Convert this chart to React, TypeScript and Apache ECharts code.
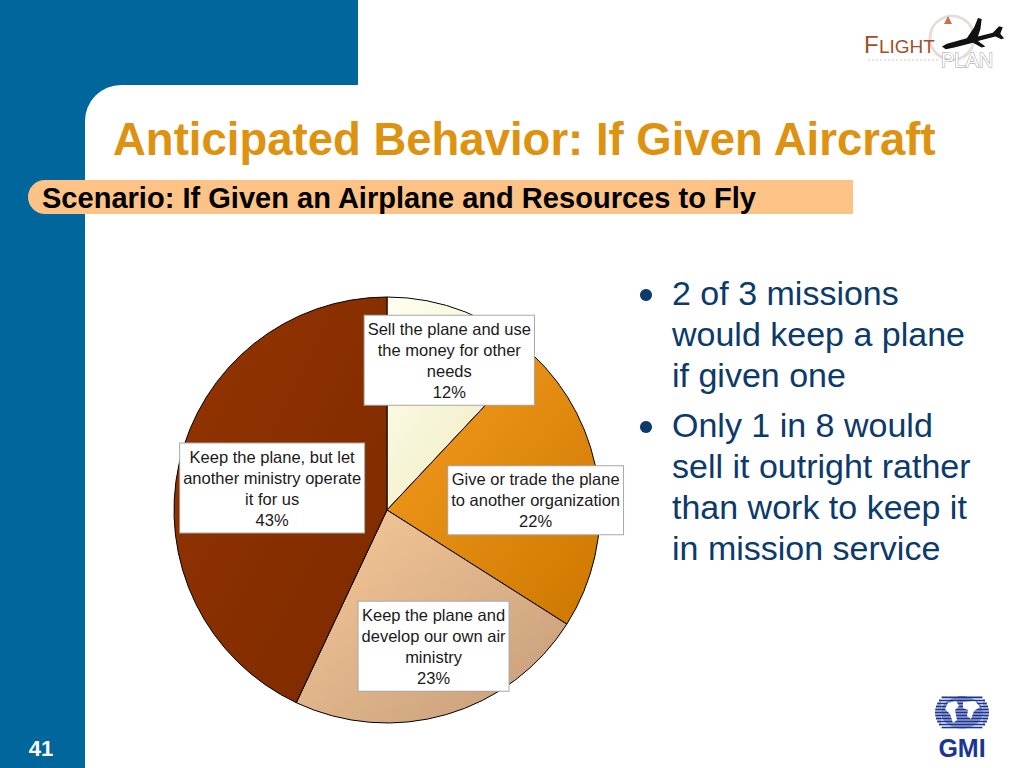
import React, { useEffect, useRef } from "react";
import * as echarts from "echarts";

const sliceNames = [
  "Sell the plane and use\nthe money for other\nneeds",
  "Give or trade the plane\nto another organization",
  "Keep the plane and\ndevelop our own air\nministry",
  "Keep the plane, but let\nanother ministry operate\nit for us",
];
const sliceValues = [12, 22, 23, 43];
const sliceColors = [
  ["#FFFFF0", "#ECE8B8"],
  ["#F69D20", "#CC7700"],
  ["#F8CA98", "#C49C7A"],
  ["#943400", "#7C2A00"],
];
const labelOffsets = [
  [22, -48],
  [40, 4],
  [16, 31],
  [-8, 2],
];
const bulletLines = [
  ["2 of 3 missions", "would keep a plane", "if given one"],
  ["Only 1 in 8 would", "sell it outright rather", "than work to keep it", "in mission service"],
];

const titleText = "Anticipated Behavior: If Given Aircraft";
const bannerText = "Scenario: If Given an Airplane and Resources to Fly";
const slideNumber = "41";

const planePath =
  "M0 62 L8 56 L40 44 L52 20 L58 0 L64 2 L62 24 L58 40 L82 32 L92 18 L98 20 L94 34 L100 44 L96 46 L86 40 L58 50 L70 62 L64 64 L50 54 L20 64 L6 68 Z";

export default function App() {
  const ref = useRef<HTMLDivElement>(null);
  useEffect(() => {
    if (!ref.current) return;
    try {
      echarts.graphic.registerShape("plane", echarts.graphic.extendPath(planePath, {}));
    } catch (e) {}
    const chart = echarts.init(ref.current, undefined, { renderer: "svg" });
    const blue = "#00669B";
    const navy = "#1B3593";
    const graphics: any[] = [
      { type: "rect", shape: { x: 0, y: 0, width: 358, height: 130 }, style: { fill: blue }, z: 0 },
      { type: "rect", shape: { x: 0, y: 0, width: 85, height: 768 }, style: { fill: blue }, z: 0 },
      { type: "rect", shape: { x: 85, y: 85, width: 939, height: 683, r: [36, 0, 0, 0] }, style: { fill: "#fff" }, z: 1 },
      {
        type: "text", x: 113, y: 139, z: 5,
        style: { text: titleText, fill: "#DD9210", font: "bold 45.5px 'Liberation Sans', Arial, sans-serif", textVerticalAlign: "middle" },
      },
      { type: "rect", shape: { x: 28, y: 180, width: 825, height: 34, r: [17, 0, 0, 17] }, style: { fill: "#FCC286" }, z: 4 },
      {
        type: "text", x: 42, y: 198, scaleX: 0.985, z: 5,
        style: { text: bannerText, fill: "#000", font: "bold 29.5px 'Liberation Sans Narrow', 'Liberation Sans', Arial, sans-serif", textVerticalAlign: "middle" },
      },
      {
        type: "text", x: 41, y: 748, z: 5,
        style: { text: slideNumber, fill: "#fff", font: "bold 22px 'Liberation Sans', Arial, sans-serif", textAlign: "center", textVerticalAlign: "middle" },
      },
    ];
    // bullets
    let y = 293;
    bulletLines.forEach((lines) => {
      graphics.push({ type: "circle", shape: { cx: 646, cy: y + 2, r: 6 }, style: { fill: "#0B3A6B" }, z: 5 });
      lines.forEach((ln) => {
        graphics.push({
          type: "text", x: 672, y, z: 5,
          style: { text: ln, fill: "#0B3A6B", font: "34px 'Liberation Sans', Arial, sans-serif", textVerticalAlign: "middle" },
        });
        y += 41;
      });
      y += 9;
    });
    // Flight Plan logo
    graphics.push(
      { type: "arc", shape: { cx: 952, cy: 38, r: 22, startAngle: 0, endAngle: Math.PI * 2 }, style: { stroke: "#E6DCDC", lineWidth: 3, fill: null }, z: 5 },
      { type: "text", x: 864, y: 56, z: 6, style: { text: "F", fill: "#A24E2A", font: "24px 'Liberation Sans', Arial, sans-serif", textVerticalAlign: "bottom" } },
      { type: "text", x: 879, y: 56, z: 6, style: { text: "LIGHT", fill: "#A24E2A", font: "19px 'Liberation Sans', Arial, sans-serif", textVerticalAlign: "bottom" } },
      { type: "text", x: 941, y: 70, z: 6, style: { text: "PLAN", fill: "#fff", stroke: "#9A9A9A", lineWidth: 1, font: "20px 'Liberation Sans', Arial, sans-serif", textVerticalAlign: "bottom" } },
      { type: "line", shape: { x1: 868, y1: 60, x2: 940, y2: 60 }, style: { stroke: "#C8C8C8", lineWidth: 1, lineDash: [2, 2] }, z: 6 },
      { type: "plane", x: 942, y: 18, scaleX: 0.62, scaleY: 0.46, style: { fill: "#111" }, z: 7 },
      { type: "polygon", shape: { points: [[944, 24], [948, 16], [952, 24]] }, style: { fill: "#C9724A" }, z: 6 }
    );
    // GMI logo: striped globe
    const gcx = 962, gcy = 712.5;
    for (let i = 0; i < 11; i++) {
      const yy = 697.5 + i * 3;
      const t = (yy - gcy) / 17;
      const half = 27 * Math.sqrt(Math.max(0, 1 - t * t * 0.55));
      graphics.push({ type: "line", shape: { x1: gcx - half, y1: yy, x2: gcx + half, y2: yy }, style: { stroke: navy, lineWidth: 1.9 }, z: 5 });
    }
    graphics.push(
      { type: "ellipse", shape: { cx: gcx, cy: gcy, rx: 21, ry: 16 }, style: { fill: navy }, z: 6 },
      { type: "polygon", shape: { points: [[948, 703], [956, 701], [959, 706], [955, 710], [957, 720], [953, 723], [950, 714], [945, 709]] }, style: { fill: "#fff" }, z: 7 },
      { type: "polygon", shape: { points: [[963, 702], [975, 701], [980, 707], [974, 711], [971, 719], [967, 716], [968, 710], [963, 708]] }, style: { fill: "#fff" }, z: 7 }
    );
    for (let i = 0; i < 11; i++) {
      graphics.push({ type: "line", shape: { x1: 941, y1: 699 + i * 3, x2: 983, y2: 699 + i * 3 }, style: { stroke: "#fff", lineWidth: 0.8 }, z: 8 });
    }
    graphics.push(
      { type: "text", x: 962, y: 748, z: 6, style: { text: "GMI", fill: navy, font: "bold 25px 'Liberation Sans', Arial, sans-serif", textAlign: "center", textVerticalAlign: "middle" } }
    );

    chart.setOption({
      animation: false,
      backgroundColor: "#fff",
      graphic: graphics,
      series: [
        {
          type: "pie",
          center: [387, 510],
          radius: 213,
          startAngle: 90,
          clockwise: true,
          z: 3,
          silent: true,
          itemStyle: { borderColor: "#000", borderWidth: 1 },
          label: {
            show: true,
            position: "inner",
            formatter: "{b}\n{c}%",
            color: "#1a1a1a",
            fontSize: 16.5,
            lineHeight: 21,
            fontFamily: "'Liberation Sans', Arial, sans-serif",
            backgroundColor: "#fff",
            borderColor: "#A8A8A8",
            borderWidth: 1,
            padding: [3, 3, 2, 3],
            align: "center",
          },
          labelLine: { show: false },
          data: sliceValues.map((v, i) => ({
            name: sliceNames[i],
            value: v,
            itemStyle: {
              color: {
                type: "linear", x: 0, y: 0, x2: 1, y2: 1,
                colorStops: [
                  { offset: 0, color: sliceColors[i][0] },
                  { offset: 1, color: sliceColors[i][1] },
                ],
              },
            },
            label: { offset: labelOffsets[i] },
          })),
        },
      ],
    });
    return () => chart.dispose();
  }, []);
  return <div ref={ref} style={{ position: "absolute", left: 0, top: 0, width: 1024, height: 768 }} />;
}
